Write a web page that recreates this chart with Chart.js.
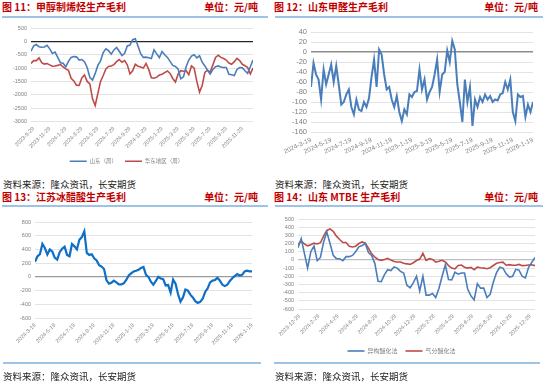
<!DOCTYPE html>
<html lang="zh">
<head>
<meta charset="UTF-8" />
<title>生产毛利</title>
<style>
  body { margin: 0; width: 550px; height: 386px; overflow: hidden; background: #fff; position: relative; font-family: 'Noto Sans CJK SC', sans-serif; }
  .title, .unit { position: absolute; font-weight: bold; font-size: 10px; line-height: 12px; color: #c00000; white-space: nowrap; }
  .unit { text-align: right; }
  .rule { position: absolute; height: 2px; background: #9dc3e6; }
  .src { position: absolute; font-size: 9.5px; line-height: 12px; color: #222; white-space: nowrap; }
  canvas { position: absolute; }
</style>
</head>
<body>
  <div class="title" style="left:2px;top:1px">图 11：甲醇制烯烃生产毛利</div>
  <div class="unit" style="right:292px;top:1px">单位：元/吨</div>
  <div class="rule" style="left:2px;top:16px;width:266px"></div>
  <div class="title" style="left:274px;top:1px">图 12：山东甲醛生产毛利</div>
  <div class="unit" style="right:12px;top:1px">单位：元/吨</div>
  <div class="rule" style="left:275px;top:16px;width:268px"></div>
  <canvas id="c11" width="268" height="152" style="left:0;top:22px"></canvas>
  <canvas id="c12" width="270" height="148" style="left:275px;top:22px"></canvas>
  <div class="src" style="left:3px;top:178px">资料来源：隆众资讯，长安期货</div>
  <div class="src" style="left:275px;top:178px">资料来源：隆众资讯，长安期货</div>

  <div class="title" style="left:2px;top:191px">图 13：江苏冰醋酸生产毛利</div>
  <div class="unit" style="right:292px;top:191px">单位：元/吨</div>
  <div class="rule" style="left:2px;top:205px;width:266px"></div>
  <div class="title" style="left:274px;top:191px">图 14：山东 MTBE 生产毛利</div>
  <div class="unit" style="right:12px;top:191px">单位：元/吨</div>
  <div class="rule" style="left:275px;top:205px;width:268px"></div>
  <canvas id="c13" width="270" height="150" style="left:0;top:210px"></canvas>
  <canvas id="c14" width="277" height="154" style="left:268px;top:210px"></canvas>
  <div class="rule" style="left:3px;top:362px;width:258px"></div>
  <div class="rule" style="left:274px;top:362px;width:266px"></div>
  <div class="src" style="left:3px;top:370px">资料来源：隆众资讯，长安期货</div>
  <div class="src" style="left:275px;top:370px">资料来源：隆众资讯，长安期货</div>

  <script src="https://cdn.jsdelivr.net/npm/chart.js"></script>
  <script>
    // 图11 甲醇制烯烃 (周)
    const c11Ticks = ['2023-9-29', '2023-11-29', '2024-1-29', '2024-3-29', '2024-5-29', '2024-7-29', '2024-9-29',
      '2024-11-29', '2025-1-29', '2025-3-29', '2025-5-29', '2025-7-29', '2025-9-29', '2025-11-29'];
    const c11Shandong = [-370, -170, -120, -200, -220, -210, -150, -280, -450, -400,
      -600, -800, -820, -950, -750, -600, -570, -580, -700, -680,
      -760, -980, -1350, -1450, -1200, -900, -730, -420, -280, -350,
      -480, -320, -230, -370, -530, -450, -170, -140, 60, 100,
      -170, -460, -600, -590, -610, -640, -320, -470, -610, -380,
      -500, -600, -750, -900, -940, -1040, -1400, -1330, -950, -700,
      -550, -500, -620, -540, -780, -920, -1080, -1220, -1050, -950,
      -920, -960, -980, -980, -1230, -1250, -1280, -1050, -980, -990,
      -1100, -1200, -950, -700];
    const c11East = [-830, -720, -720, -620, -800, -850, -830, -880, -930, -920,
      -900, -860, -960, -1030, -1080, -1380, -1480, -1640, -1650, -1370,
      -1260, -1500, -1590, -2150, -2400, -1950, -1500, -1280, -1030, -940,
      -920, -870, -760, -680, -780, -720, -880, -1220, -1100, -860,
      -930, -960, -1000, -830, -1050, -1360, -1380, -1340, -1260, -1230,
      -1170, -1110, -1200, -1390, -1520, -1230, -1100, -1120, -1100, -1250,
      -920, -1000, -1500, -1900, -1650, -1160, -1080, -1150, -880, -600,
      -520, -600, -640, -700, -810, -860, -760, -640, -720, -860,
      -910, -980, -1220, -1000];

    // 图12 山东甲醛
    const c12Ticks = ['2024-3-19', '2024-5-19', '2024-7-19', '2024-9-19', '2024-11-19', '2025-1-19',
      '2025-3-19', '2025-5-19', '2025-7-19', '2025-9-19', '2025-11-19', '2026-1-19'];
    const c12Margin = [-70, -22, -45, -55, -95, -35, -65, -45,
      -25, -60, -28, -65, -105, -100, -85, -75,
      -110, -125, -95, -115, -118, -100, -110, -92,
      -50, -15, -70, 5, -5, -45, -75, -70,
      -95, -110, -88, -120, -138, -115, -125, -85,
      -90, -80, -78, -35, -75, -55, -95, -80,
      -70, -45, -15, -80, -45, -40, 3, -20,
      22, 5, -65, -100, -140, -55, -100, -70,
      -148, -95, -110, -90, -100, -85, -95, -88,
      -100, -95, -97, -85, -82, -60, -75, -55,
      -120, -138, -85, -90, -88, -130, -105, -120, -100];

    // 图13 江苏冰醋酸
    const c13Ticks = c12Ticks;
    const c13Margin = [220, 300, 330, 480, 420, 325, 400, 370,
      280, 250, 360, 410, 440, 320, 300, 480,
      445, 400, 540, 580, 665, 350, 320, 330,
      270, 240, 170, 150, 115, -50, -100, -85,
      -55, -80, -110, -110, -95, -45, 20, 50,
      80, 90, 105, 130, 145, 30, 0, -70,
      -115, -60, 0, -25, -35, -125, -120, -230,
      -40, -100, -250, -360, -300, -185, -200, -260,
      -300, -355, -380, -365, -320, -220, -170, -80,
      -55, -45, -15, -55, -115, -135, -115, -60,
      -20, 10, 40, 20, 30, 80, 90, 80, 80];

    // 图14 山东 MTBE
    const c14Ticks = ['2023-12-29', '2024-2-29', '2024-4-29', '2024-6-29', '2024-8-29', '2024-10-29', '2024-12-29',
      '2025-2-28', '2025-4-29', '2025-6-29', '2025-8-29', '2025-10-29', '2025-12-29'];
    const c14Iso = [150, 260, 80, -100, 100, 170, -10, 30, 220, 340,
      200, 55, 15, 15, -10, 40, 40, 55, 100, 160,
      175, 200, 90, 55, -45, -260, -265, -180, -120, -130,
      -85, -100, -140, -160, -310, -340, -280, -200, -380, -200,
      -430, -430, -410, -460, -350, -200, -60, -240, -245, -150,
      -175, -160, -160, -360, -440, -490, -290, -345, -345, -460,
      -420, -270, -155, -90, -100, -170, -210, -200, -115, -125,
      -200, -220, -90, -30, 30];
    const c14Gas = [190, 230, 195, 172, 185, 205, 195, 210, 290, 360,
      380, 350, 290, 250, 212, 212, 167, 158, 168, 200,
      220, 205, 145, 75, 35, 5, -5, 5, 20, -2,
      -20, -25, -25, -42, -48, -55, -35, -8, 10, 80,
      -5, 15, 5, -28, -17, -5, -25, -70, -100, -110,
      -68, -62, -90, -100, -92, -120, -88, -95, -100, -108,
      -95, -68, -42, -32, -28, -65, -58, -65, -65, -55,
      -70, -68, -62, -60, -70];

    Chart.defaults.font.family = "'Liberation Sans', 'Noto Sans CJK SC', sans-serif";
    Chart.defaults.color = '#7f7f7f';

    function lineChart(id, o) {
      const n = o.series[0].values.length;
      return new Chart(document.getElementById(id), {
        type: 'line',
        data: {
          datasets: o.series.map(s => ({
            label: s.label,
            data: s.values.map((v, i) => ({ x: i, y: v })),
            borderColor: s.color,
            backgroundColor: s.color,
            borderWidth: o.lineWidth,
            pointRadius: 0,
            tension: 0
          }))
        },
        options: {
          responsive: false,
          animation: false,
          layout: { padding: o.pad },
          plugins: {
            tooltip: { enabled: false },
            legend: o.legend ? {
              position: 'bottom',
              labels: {
                usePointStyle: true, pointStyle: 'line', pointStyleWidth: 17,
                font: { size: o.legendSize }, color: '#7f7f7f', padding: 8
              }
            } : { display: false }
          },
          scales: {
            x: {
              type: 'linear', min: 0, max: n - 1,
              grid: { display: false, drawTicks: false },
              border: { display: false },
              afterBuildTicks: ax => { ax.ticks = o.ticks.map((t, j) => ({ value: o.tickStart + j * o.tickStep })); },
              afterFit: ax => { ax.height = o.xH; ax.paddingLeft = 0; ax.paddingRight = 0; },
              ticks: {
                autoSkip: false, minRotation: o.rot, maxRotation: o.rot, padding: 4,
                font: { size: o.xFont }, callback: (v, i) => o.ticks[i]
              }
            },
            y: {
              min: o.yMin, max: o.yMax,
              grid: {
                drawTicks: false,
                color: c => c.tick.value === 0 ? o.zeroColor : '#e3e3e3',
                lineWidth: c => c.tick.value === 0 ? o.zeroWidth : 1
              },
              border: { display: false },
              afterFit: ax => { ax.width = o.yW; ax.paddingTop = 0; ax.paddingBottom = 0; },
              ticks: { autoSkip: false, stepSize: o.yStep, padding: 4, font: { size: o.yFont }, callback: v => v }
            }
          }
        }
      });
    }

    lineChart('c11', {
      series: [
        { label: '山东（周）', values: c11Shandong, color: '#4a7ebb' },
        { label: '华东地区（周）', values: c11East, color: '#be4b48' }
      ],
      lineWidth: 1.6, legend: true, legendSize: 5.5,
      ticks: c11Ticks, tickStart: 1, tickStep: 6, rot: 45, xFont: 5.5, xH: 29,
      yMin: -3000, yMax: 500, yStep: 500, yFont: 5.5, yW: 31,
      zeroColor: '#262626', zeroWidth: 1.2,
      pad: { top: 6, right: 15, left: 0, bottom: 0 }
    });

    lineChart('c12', {
      series: [{ label: '山东甲醛', values: c12Margin, color: '#4a7ebb' }],
      lineWidth: 2, legend: false,
      ticks: c12Ticks, tickStart: 0, tickStep: 8, rot: 25, xFont: 6.5, xH: 38,
      yMin: -160, yMax: 40, yStep: 20, yFont: 7.5, yW: 36,
      zeroColor: '#8c8c8c', zeroWidth: 1.5,
      pad: { top: 10, right: 12, left: 0, bottom: 0 }
    });

    lineChart('c13', {
      series: [{ label: '江苏冰醋酸', values: c13Margin, color: '#0f6fc6' }],
      lineWidth: 2.2, legend: false,
      ticks: c13Ticks, tickStart: 0, tickStep: 8, rot: 45, xFont: 5.5, xH: 42,
      yMin: -600, yMax: 800, yStep: 200, yFont: 5.5, yW: 35,
      zeroColor: '#9a9a9a', zeroWidth: 1.2,
      pad: { top: 12, right: 18, left: 0, bottom: 0 }
    });

    lineChart('c14', {
      series: [
        { label: '异构醚化法', values: c14Iso, color: '#4a7ebb' },
        { label: '气分醚化法', values: c14Gas, color: '#be4b48' }
      ],
      lineWidth: 1.6, legend: true, legendSize: 6,
      ticks: c14Ticks, tickStart: 0.5, tickStep: 6, rot: 45, xFont: 5.5, xH: 31,
      yMin: -600, yMax: 500, yStep: 100, yFont: 5.5, yW: 30,
      zeroColor: '#bfbfbf', zeroWidth: 1.2,
      pad: { top: 9, right: 10, left: 0, bottom: 0 }
    });
  </script>
</body>
</html>
